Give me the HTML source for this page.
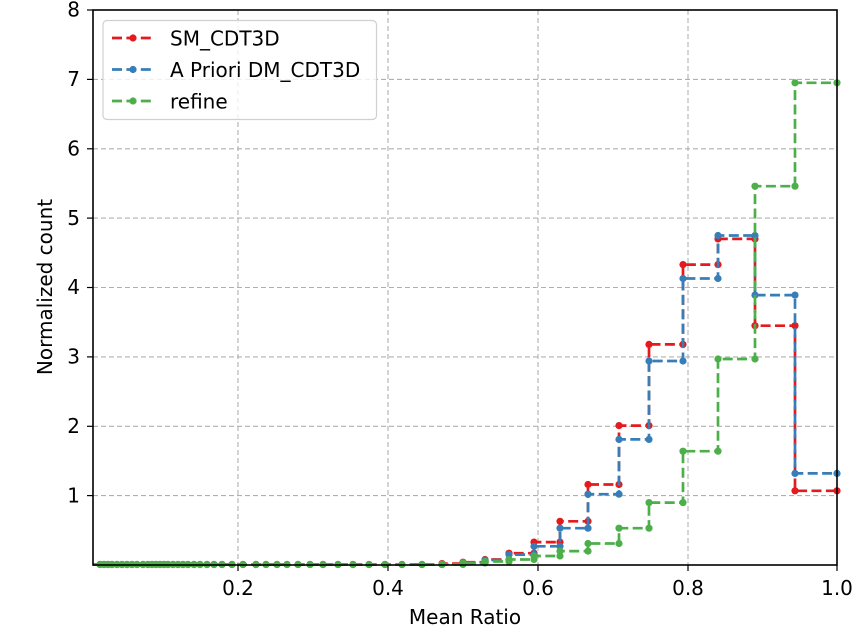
<!DOCTYPE html>
<html><head><meta charset="utf-8"><style>
html,body{margin:0;padding:0;background:#fff}
svg{display:block}
text{font-family:"DejaVu Sans","Liberation Sans",sans-serif;font-size:20px;fill:#000}
</style></head><body>
<svg width="860" height="632" viewBox="0 0 860 632" xmlns="http://www.w3.org/2000/svg">
<defs>
<marker id="mr" markerUnits="userSpaceOnUse" markerWidth="10" markerHeight="10" refX="5" refY="5" viewBox="0 0 10 10"><circle cx="5" cy="5" r="3.6" fill="#e41a1c"/></marker>
<marker id="mb" markerUnits="userSpaceOnUse" markerWidth="10" markerHeight="10" refX="5" refY="5" viewBox="0 0 10 10"><circle cx="5" cy="5" r="3.6" fill="#377eb8"/></marker>
<marker id="mg" markerUnits="userSpaceOnUse" markerWidth="10" markerHeight="10" refX="5" refY="5" viewBox="0 0 10 10"><circle cx="5" cy="5" r="3.6" fill="#4daf4a"/></marker>
</defs>
<g stroke="#b0b0b0" stroke-width="1.1" stroke-dasharray="5,3">
<line x1="238" y1="10" x2="238" y2="565"/><line x1="388" y1="10" x2="388" y2="565"/><line x1="538" y1="10" x2="538" y2="565"/><line x1="688" y1="10" x2="688" y2="565"/>
<line x1="93" y1="495.6" x2="837" y2="495.6"/><line x1="93" y1="426.3" x2="837" y2="426.3"/><line x1="93" y1="356.9" x2="837" y2="356.9"/><line x1="93" y1="287.5" x2="837" y2="287.5"/><line x1="93" y1="218.1" x2="837" y2="218.1"/><line x1="93" y1="148.8" x2="837" y2="148.8"/><line x1="93" y1="79.4" x2="837" y2="79.4"/>
</g>
<g fill="none" stroke-width="2.7" stroke-dasharray="10,4.4">
<polyline stroke="#e41a1c" marker-mid="url(#mr)" marker-end="url(#mr)" points="93,564.5 100,564.5 104,564.5 108,564.5 112,564.5 117,564.5 122,564.5 127,564.5 132,564.5 137,564.5 143,564.5 148,564.5 152,564.5 156,564.5 160,564.5 164,564.5 168,564.5 173,564.5 178,564.5 183,564.5 188,564.5 194,564.5 200,564.5 207,564.5 214,564.5 222,564.5 232,564.5 243,564.5 256,564.5 266,564.5 277,564.5 287,564.5 298,564.5 310,564.5 323,564.5 338,564.5 353,564.5 369,564.5 385,564.5 402,564.5 422,564.5 442,564.5 442,563.6 463,563.6 463,562.2 485,562.2 485,559.5 509,559.5 509,553.2 534,553.2 534,542.1 560,542.1 560,521.3 588,521.3 588,484.5 619,484.5 619,425.6 649,425.6 649,344.4 683,344.4 683,264.6 718,264.6 718,238.9 755,238.9 755,325.7 795,325.7 795,490.8 837,490.8"/>
<polyline stroke="#377eb8" marker-mid="url(#mb)" marker-end="url(#mb)" points="93,564.5 100,564.5 104,564.5 108,564.5 112,564.5 117,564.5 122,564.5 127,564.5 132,564.5 137,564.5 143,564.5 148,564.5 152,564.5 156,564.5 160,564.5 164,564.5 168,564.5 173,564.5 178,564.5 183,564.5 188,564.5 194,564.5 200,564.5 207,564.5 214,564.5 222,564.5 232,564.5 243,564.5 256,564.5 266,564.5 277,564.5 287,564.5 298,564.5 310,564.5 323,564.5 338,564.5 353,564.5 369,564.5 385,564.5 402,564.5 422,564.5 442,564.5 442,564.3 463,564.3 463,562.9 485,562.9 485,560.1 509,560.1 509,554.6 534,554.6 534,546.3 560,546.3 560,528.2 588,528.2 588,494.2 619,494.2 619,439.4 649,439.4 649,361 683,361 683,278.5 718,278.5 718,235.5 755,235.5 755,295.1 795,295.1 795,473.4 837,473.4"/>
<polyline stroke="#4daf4a" marker-mid="url(#mg)" marker-end="url(#mg)" points="93,564.5 100,564.5 104,564.5 108,564.5 112,564.5 117,564.5 122,564.5 127,564.5 132,564.5 137,564.5 143,564.5 148,564.5 152,564.5 156,564.5 160,564.5 164,564.5 168,564.5 173,564.5 178,564.5 183,564.5 188,564.5 194,564.5 200,564.5 207,564.5 214,564.5 222,564.5 232,564.5 243,564.5 256,564.5 266,564.5 277,564.5 287,564.5 298,564.5 310,564.5 323,564.5 338,564.5 353,564.5 369,564.5 385,564.5 402,564.5 422,564.5 442,564.5 442,564.3 463,564.3 463,562.9 485,562.9 485,561.5 509,561.5 509,559.5 534,559.5 534,556 560,556 560,551.1 588,551.1 588,543.5 619,543.5 619,528.2 649,528.2 649,502.6 683,502.6 683,451.2 718,451.2 718,359 755,359 755,186.2 795,186.2 795,82.8 837,82.8"/>
</g>
<rect x="93" y="10" width="744" height="555" fill="none" stroke="#000" stroke-width="1.6"/>
<g stroke="#000" stroke-width="1.2">
<line x1="238" y1="565" x2="238" y2="571"/><line x1="388" y1="565" x2="388" y2="571"/><line x1="538" y1="565" x2="538" y2="571"/><line x1="688" y1="565" x2="688" y2="571"/><line x1="837" y1="565" x2="837" y2="571"/>
<line x1="87" y1="495.6" x2="93" y2="495.6"/><line x1="87" y1="426.3" x2="93" y2="426.3"/><line x1="87" y1="356.9" x2="93" y2="356.9"/><line x1="87" y1="287.5" x2="93" y2="287.5"/><line x1="87" y1="218.1" x2="93" y2="218.1"/><line x1="87" y1="148.8" x2="93" y2="148.8"/><line x1="87" y1="79.4" x2="93" y2="79.4"/><line x1="87" y1="10" x2="93" y2="10"/>
</g>
<g text-anchor="middle">
<text x="238" y="595">0.2</text><text x="388" y="595">0.4</text><text x="538" y="595">0.6</text><text x="688" y="595">0.8</text><text x="837" y="595">1.0</text>
<text x="465" y="624">Mean Ratio</text>
<text transform="translate(52,287) rotate(-90)">Normalized count</text>
</g>
<g text-anchor="end">
<text x="80" y="502.5">1</text><text x="80" y="433">2</text><text x="80" y="363.6">3</text><text x="80" y="294.2">4</text><text x="80" y="224.8">5</text><text x="80" y="155.5">6</text><text x="80" y="86.1">7</text><text x="80" y="16.7">8</text>
</g>
<rect x="103" y="20.5" width="273.5" height="99" rx="4" fill="#fff" fill-opacity="0.8" stroke="#d0d0d0" stroke-width="1.2"/>
<g stroke-width="2.7" stroke-dasharray="10,4.4">
<line x1="112" y1="38" x2="153" y2="38" stroke="#e41a1c"/>
<line x1="112" y1="69.5" x2="153" y2="69.5" stroke="#377eb8"/>
<line x1="112" y1="101" x2="153" y2="101" stroke="#4daf4a"/>
</g>
<circle cx="133" cy="38" r="3.6" fill="#e41a1c"/><circle cx="133" cy="69.5" r="3.6" fill="#377eb8"/><circle cx="133" cy="101" r="3.6" fill="#4daf4a"/>
<g style="font-size:20.6px">
<text x="170" y="45.5">SM_CDT3D</text>
<text x="170" y="77">A Priori DM_CDT3D</text>
<text x="170" y="108.5">refine</text>
</g>
</svg>
</body></html>
